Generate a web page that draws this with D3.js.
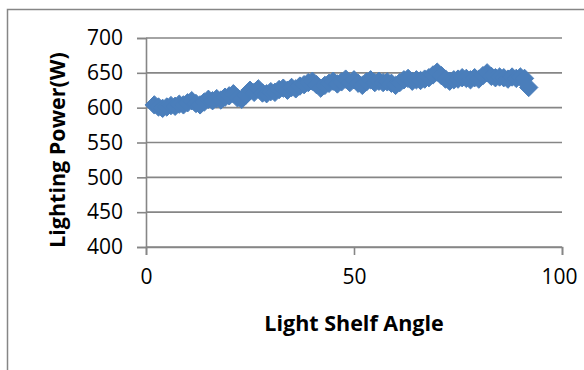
<!DOCTYPE html>
<html lang="en">
<head>
<meta charset="UTF-8">
<title>Lighting Power vs Light Shelf Angle</title>
<style>
    body { margin: 0; background: #fff; font-family: "Open Sans", Arial, sans-serif; }
    svg text { fill: #000; }
</style>
</head>
<body>
<div id="chart"></div>
<script src="https://d3js.org/d3.v7.min.js"></script>
<script>
    // light shelf angle (deg) and lighting power (W)
    const angles = [2, 3, 4, 5, 6, 7, 8, 9, 10, 11, 12, 13, 14, 15, 16, 17, 18, 19, 20, 21,
        22, 23, 24, 25, 26, 27, 28, 29, 30, 31, 32, 33, 34, 35, 36, 37, 38, 39, 40, 41,
        42, 43, 44, 45, 46, 47, 48, 49, 50, 51, 52, 53, 54, 55, 56, 57, 58, 59, 60, 61,
        62, 63, 64, 65, 66, 67, 68, 69, 70, 71, 72, 73, 74, 75, 76, 77, 78, 79, 80, 81,
        82, 83, 84, 85, 86, 87, 88, 89, 90, 91, 92];
    const power = [604, 601, 599, 601, 603, 602, 605, 604, 607, 610, 606, 604, 608, 612, 610, 613, 611, 615, 617, 620,
        614, 612, 618, 625, 622, 627, 621, 620, 623, 622, 626, 628, 625, 629, 627, 631, 633, 636, 638, 633,
        628, 632, 635, 638, 634, 637, 641, 636, 640, 635, 632, 637, 640, 636, 638, 636, 637, 635, 632, 636,
        640, 642, 638, 640, 639, 641, 643, 647, 651, 646, 641, 638, 640, 641, 643, 642, 640, 643, 641, 646,
        650, 645, 643, 644, 643, 641, 644, 642, 644, 642, 629];
    const xTicks = [0, 50, 100];
    const yTicks = [400, 450, 500, 550, 600, 650, 700];

    const width = 584, height = 370;
    const plot = { left: 146, right: 562, top: 38, bottom: 247 };
    const gray = "#868686";

    const svg = d3.select("#chart").append("svg")
        .attr("width", width)
        .attr("height", height);

    // outer chart frame (runs off the right and bottom of the picture)
    svg.append("rect")
        .attr("x", 7.5).attr("y", 9.5)
        .attr("width", 700).attr("height", 500)
        .attr("fill", "#fff")
        .attr("stroke", gray)
        .attr("stroke-width", 1.5);

    const x = d3.scaleLinear().domain([0, 100]).range([plot.left, plot.right]);
    const y = d3.scaleLinear().domain([400, 700]).range([plot.bottom, plot.top]);

    // gridlines
    svg.append("g")
        .selectAll("line")
        .data(yTicks)
        .enter()
        .append("line")
        .attr("x1", plot.left).attr("x2", plot.right)
        .attr("y1", d => y(d)).attr("y2", d => y(d))
        .attr("stroke", gray)
        .attr("stroke-width", 1.6);

    // y axis
    const yAxis = svg.append("g")
        .attr("transform", `translate(${plot.left},0)`)
        .call(d3.axisLeft(y).tickValues(yTicks).tickSize(9).tickPadding(14));
    // x axis
    const xAxis = svg.append("g")
        .attr("transform", `translate(0,${plot.bottom})`)
        .call(d3.axisBottom(x).tickValues(xTicks).tickSize(8).tickPadding(10));

    [yAxis, xAxis].forEach(g => {
        g.select(".domain").attr("stroke", gray).attr("stroke-width", 1.6);
        g.selectAll(".tick line").attr("stroke", gray).attr("stroke-width", 1.6);
        g.selectAll(".tick text")
            .attr("font-family", "'Open Sans', Arial, sans-serif")
            .attr("font-size", 21)
            .attr("fill", "#000");
    });
    xAxis.selectAll(".tick text").attr("dy", "0.9em");
    // the "100" label sits a bit left so it fits inside the frame
    xAxis.selectAll(".tick text").filter(d => d === 100).attr("dx", -3);

    // markers
    const diamond = d3.symbol().type(d3.symbolDiamond2).size(215);
    svg.append("g")
        .selectAll("path")
        .data(angles.map((a, i) => ({ a, p: power[i] })))
        .enter()
        .append("path")
        .attr("d", diamond)
        .attr("transform", d => `translate(${x(d.a)},${y(d.p)})`)
        .attr("fill", "#4a7ebb")
        .attr("stroke", "#4a7ebb")
        .attr("stroke-width", 1);

    // axis titles
    svg.append("text")
        .attr("x", 354)
        .attr("y", 331)
        .attr("text-anchor", "middle")
        .attr("font-size", 21.5)
        .attr("font-weight", "bold")
        .text("Light Shelf Angle");

    svg.append("text")
        .attr("transform", "translate(65,150) rotate(-90)")
        .attr("text-anchor", "middle")
        .attr("font-size", 21.5)
        .attr("font-weight", "bold")
        .text("Lighting Power(W)");
</script>
</body>
</html>
